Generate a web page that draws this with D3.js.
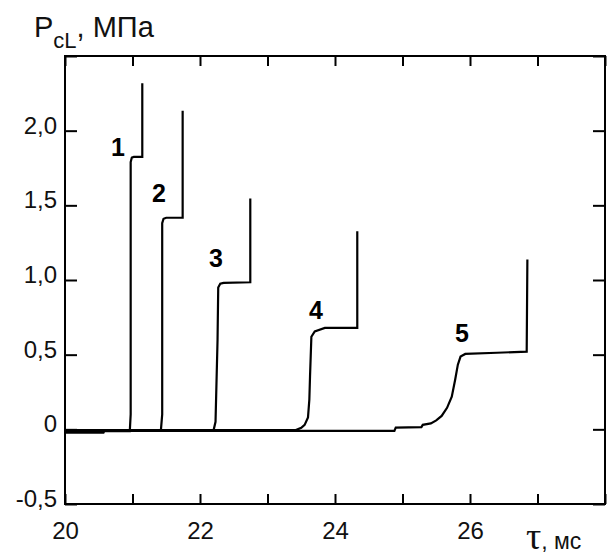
<!DOCTYPE html>
<html>
<head>
<meta charset="utf-8">
<script src="https://cdn.jsdelivr.net/npm/d3@7"></script>
<style>
  html, body { margin: 0; padding: 0; background: #fff; }
  svg { display: block; }
  .axis text { font-family: "Liberation Sans", Arial, sans-serif; font-size: 24px; fill: #111; }
  .axis line { stroke: #000; stroke-width: 2; }
  .axis path { display: none; }
</style>
</head>
<body>
<svg id="chart" width="611" height="558"></svg>
<script>
// time axis (ms) ticks and labels
const xTickValues = [20, 21, 22, 23, 24, 25, 26, 27, 28];
const xTickLabels = ["20", "", "22", "", "24", "", "26", "", ""];
// pressure axis (MPa) ticks and labels
const yTickValues = [-0.5, 0, 0.5, 1, 1.5, 2, 2.5];
const yTickLabels = ["-0,5", "0", "0,5", "1,0", "1,5", "2,0", ""];

// curves, [tau, P] pairs
const curve1 = [[20, -0.022], [20.57, -0.022], [20.58, -0.012], [20.96, -0.012], [20.973, 0.1], [20.973, 1.79], [20.99, 1.82], [21.02, 1.824], [21.145, 1.824], [21.145, 2.317]];
const curve2 = [[20, -0.016], [20.57, -0.016], [20.58, -0.01], [21.42, -0.01], [21.44, 0.1], [21.44, 1.38], [21.46, 1.41], [21.5, 1.417], [21.743, 1.417], [21.743, 2.133]];
const curve3 = [[20, -0.008], [22.2, -0.008], [22.23, 0.05], [22.26, 0.6], [22.27, 0.95], [22.3, 0.975], [22.35, 0.981], [22.745, 0.985], [22.745, 1.545]];
const curve4 = [[20, -0.005], [23.42, -0.005], [23.5, 0.01], [23.55, 0.03], [23.6, 0.08], [23.62, 0.2], [23.63, 0.354], [23.65, 0.62], [23.7, 0.656], [23.85, 0.679], [24.33, 0.68], [24.33, 1.327]];
const curve5 = [[20, -0.01], [24.88, -0.01], [24.9, 0.012], [25.28, 0.015], [25.3, 0.03], [25.42, 0.04], [25.5, 0.06], [25.58, 0.09], [25.66, 0.144], [25.73, 0.218], [25.78, 0.332], [25.82, 0.433], [25.86, 0.487], [25.93, 0.505], [26.4, 0.513], [26.84, 0.52], [26.85, 1.138]];
const curves = [curve1, curve2, curve3, curve4, curve5];

// curve numbers and where they sit
const curveNames = ["1", "2", "3", "4", "5"];
const labelT = [20.785, 21.393, 22.237, 23.719, 25.881];
const labelP = [1.829, 1.52, 1.084, 0.742, 0.587];

let svg = d3.select("#chart");

let x = d3.scaleLinear().domain([20, 28]).range([65, 605]);
let y = d3.scaleLinear().domain([-0.5, 2.5]).range([504, 56]);

// frame
svg.append("rect")
    .attr("x", x(20))
    .attr("y", y(2.5))
    .attr("width", x(28) - x(20))
    .attr("height", y(-0.5) - y(2.5))
    .attr("fill", "none")
    .attr("stroke", "#000")
    .attr("stroke-width", 2);

// bottom axis, ticks pointing inward
let gx = svg.append("g")
    .attr("class", "axis")
    .attr("transform", "translate(0," + y(-0.5) + ")")
    .call(d3.axisBottom(x).tickValues(xTickValues).tickSize(-10).tickSizeOuter(0)
        .tickFormat((d, i) => xTickLabels[i]));
gx.selectAll("text").attr("y", 35).attr("dy", 0);

// top axis
svg.append("g")
    .attr("class", "axis")
    .attr("transform", "translate(0," + y(2.5) + ")")
    .call(d3.axisTop(x).tickValues(xTickValues).tickSize(-10).tickSizeOuter(0).tickFormat(""));

// left axis
let gy = svg.append("g")
    .attr("class", "axis")
    .attr("transform", "translate(" + x(20) + ",0)")
    .call(d3.axisLeft(y).tickValues(yTickValues).tickSize(-12).tickSizeOuter(0)
        .tickFormat((d, i) => yTickLabels[i]));
gy.selectAll("text").attr("x", -8).attr("dy", 0).attr("y", 2.5);

// right axis
svg.append("g")
    .attr("class", "axis")
    .attr("transform", "translate(" + x(28) + ",0)")
    .call(d3.axisRight(y).tickValues(yTickValues).tickSize(-12).tickSizeOuter(0).tickFormat(""));

// curves
let line = d3.line()
    .x(d => x(d[0]))
    .y(d => y(d[1]));

svg.append("g")
    .selectAll("path")
    .data(curves)
    .enter().append("path")
    .attr("d", line)
    .attr("fill", "none")
    .attr("stroke", "#000")
    .attr("stroke-width", 2.2);

// curve numbers
svg.append("g")
    .attr("font-family", "Liberation Sans, Arial, sans-serif")
    .attr("font-size", 25)
    .attr("font-weight", "bold")
    .attr("text-anchor", "middle")
    .selectAll("text")
    .data(curveNames)
    .enter().append("text")
    .attr("x", (d, i) => x(labelT[i]))
    .attr("y", (d, i) => y(labelP[i]))
    .text(d => d);

// y title: P_cL, МПа
let yTitle = svg.append("text")
    .attr("x", 34)
    .attr("y", 37)
    .attr("font-family", "Liberation Sans, Arial, sans-serif")
    .attr("font-size", 29)
    .attr("fill", "#111");
yTitle.append("tspan").text("P");
yTitle.append("tspan").attr("font-size", 22).attr("dy", 11).text("cL");
yTitle.append("tspan").attr("dy", -11).text(", МПа");

// x title: τ, мс
let xTitle = svg.append("text")
    .attr("x", 526)
    .attr("y", 549)
    .attr("fill", "#111");
xTitle.append("tspan")
    .attr("font-family", "Liberation Serif, Times New Roman, serif")
    .attr("font-size", 38)
    .text("τ");
xTitle.append("tspan")
    .attr("font-family", "Liberation Sans, Arial, sans-serif")
    .attr("font-size", 23)
    .text(", мс");
</script>
</body>
</html>
